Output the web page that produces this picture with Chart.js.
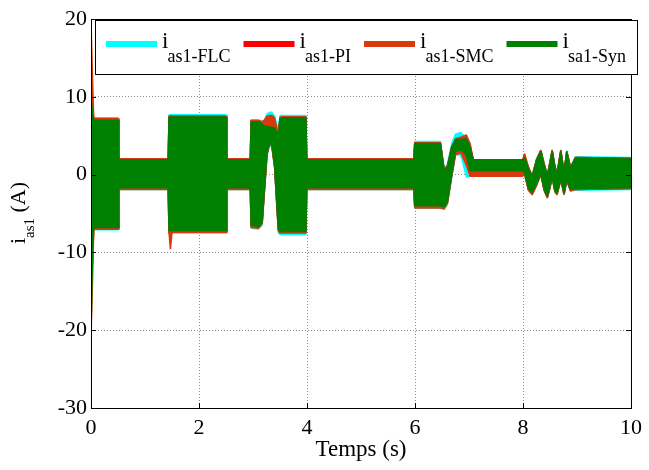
<!DOCTYPE html>
<html>
<head>
<meta charset="utf-8">
<script src="https://cdn.jsdelivr.net/npm/chart.js@4.4.1/dist/chart.umd.min.js"></script>
<style>
html, body { margin: 0; padding: 0; background: #fff; }
</style>
</head>
<body>
<canvas id="myChart" width="649" height="470"></canvas>
<script>
// time breakpoints (s) shared by all envelopes
var time = [0, 0.03, 0.05, 0.5, 0.515, 1.43, 1.445, 1.47, 1.5, 2.5, 2.515, 2.95, 2.965, 3.1, 3.17, 3.21, 3.26, 3.31, 3.35, 3.4, 3.44, 3.47, 3.5, 3.54, 3.98, 3.995, 5.98, 5.995, 6.47, 6.54, 6.6, 6.68, 6.75, 6.85, 6.95, 7.02, 7.08,
            7.99, 8.03, 8.1, 8.17, 8.25, 8.33, 8.39, 8.45, 8.5, 8.54, 8.59, 8.63, 8.7, 8.76, 8.81, 8.88, 8.97, 10];

// upper / lower envelope of each current (A)
var flcHi = [8, 7.5, 7.3, 7.3, 2.05, 2.05, 7.7, 7.7, 7.7, 7.7, 2.05, 2.05, 7.0, 7.0, 6.8, 7.0, 7.8, 8.0, 8.0, 7.5, 6.5, 6.0, 7.6, 7.6, 7.6, 2.05, 2.05, 4.25, 4.25, 0.8, 1.3, 4.0, 5.2, 5.4, 4.7, 3.6, 1.8,
             1.8, 2.1, 0.9, -0.1, 2.0, 3.2, 1.5, 0.0, 1.7, 3.2, 1.2, 0.2, 3.2, 0.4, 3.1, 1.0, 2.3, 2.2];
var flcLo = [-10, -8, -7.1, -7.1, -1.9, -1.9, -7.5, -7.5, -7.5, -7.5, -1.9, -1.9, -6.9, -7.0, -6.5, -2.5, 2.4, 3.9, 3.5, 0.8, -4.0, -7.5, -7.7, -7.7, -7.7, -1.9, -1.9, -4.3, -4.3, -4.5, -3.8, -0.3, 2.6, 2.5, -0.3, -0.2, 0.0,
             0.0, 0.1, -2.0, -2.5, -1.4, 0.0, -2.0, -3.0, -1.7, -0.4, -2.2, -2.6, -0.7, -2.6, -0.8, -2.1, -2.0, -1.9];

var piHi = [12, 9, 7.1, 7.1, 2.0, 2.0, 7.5, 7.5, 7.5, 7.5, 2.0, 2.0, 6.9, 6.9, 6.6, 6.4, 6.8, 7.0, 7.0, 6.6, 5.8, 5.2, 7.3, 7.4, 7.4, 2.0, 2.0, 4.1, 4.1, 0.6, 1.1, 3.6, 4.4, 4.6, 4.9, 3.8, 1.9,
            1.9, 2.3, 0.9, -0.2, 1.9, 3.1, 1.4, -0.1, 1.6, 3.1, 1.1, 0.1, 3.1, 0.3, 3.0, 0.9, 2.2, 2.1];
var piLo = [-14, -11, -7.0, -7.0, -1.8, -1.8, -7.4, -8.0, -7.4, -7.4, -1.8, -1.8, -6.7, -6.8, -6.2, -2.2, 2.7, 4.1, 3.7, 1.1, -3.7, -7.1, -7.4, -7.4, -7.4, -1.8, -1.8, -4.2, -4.2, -4.3, -3.6, -0.1, 2.8, 3.0, 1.5, 0.1, 0.1,
            0.1, 0.1, -1.9, -2.5, -1.3, 0.1, -1.9, -2.9, -1.6, -0.3, -2.1, -2.5, -0.6, -2.5, -0.7, -2.0, -1.9, -1.8];

var smcHi = [19.3, 12, 7.2, 7.2, 2.0, 2.0, 7.5, 7.5, 7.5, 7.5, 2.0, 2.0, 7.0, 7.0, 6.8, 7.0, 7.5, 7.6, 7.6, 7.3, 6.0, 5.0, 7.3, 7.4, 7.4, 2.0, 2.0, 4.1, 4.1, 0.5, 1.0, 3.5, 4.6, 4.8, 5.1, 4.0, 1.8,
             1.8, 2.7, 1.0, -0.2, 1.9, 3.1, 1.4, -0.1, 1.6, 3.1, 1.1, 0.1, 3.1, 0.3, 3.0, 0.9, 2.2, 2.1];
var smcLo = [-21, -13, -7.0, -7.0, -1.9, -1.9, -7.4, -9.6, -7.4, -7.4, -1.9, -1.9, -6.8, -6.9, -6.3, -2.3, 2.6, 4.0, 3.6, 1.0, -3.8, -7.2, -7.5, -7.5, -7.5, -1.9, -1.9, -4.3, -4.3, -4.4, -3.7, -0.2, 2.5, 2.8, 1.2, -0.2, -0.2,
             -0.2, 0.0, -2.0, -2.6, -1.4, 0.0, -2.0, -3.0, -1.7, -0.4, -2.2, -2.6, -0.7, -2.6, -0.8, -2.1, -1.9, -1.8];

var synHi = [9.5, 8.0, 7.0, 7.0, 1.9, 1.9, 7.4, 7.4, 7.4, 7.4, 1.9, 1.9, 6.8, 6.8, 6.5, 6.2, 6.2, 6.1, 6.1, 6.0, 5.5, 5.0, 7.2, 7.3, 7.3, 1.9, 1.9, 4.0, 4.0, 0.5, 1.0, 3.5, 4.5, 4.5, 4.6, 3.5, 1.9,
             1.9, 2.2, 0.8, -0.3, 1.8, 3.0, 1.3, -0.2, 1.5, 3.0, 1.0, 0.0, 3.0, 0.2, 2.9, 0.8, 2.1, 2.0];
var synLo = [-20, -10, -6.8, -6.8, -1.7, -1.7, -7.2, -7.2, -7.2, -7.2, -1.7, -1.7, -6.5, -6.7, -6.0, -2.0, 2.8, 4.2, 3.8, 1.2, -3.5, -7.0, -7.3, -7.3, -7.3, -1.7, -1.7, -4.0, -4.0, -4.1, -3.5, 0.0, 3.0, 3.2, 2.5, 0.5, 0.5,
             0.5, 0.3, -1.8, -2.3, -1.2, 0.2, -1.8, -2.8, -1.5, -0.2, -2.0, -2.4, -0.5, -2.4, -0.6, -1.9, -1.8, -1.7];

var xTicks = [0, 2, 4, 6, 8, 10];
var yTicks = [-30, -20, -10, 0, 10, 20];
var legendSubs = ['as1-FLC', 'as1-PI', 'as1-SMC', 'sa1-Syn'];

var serif = '"Liberation Serif", "Times New Roman", serif';

function toPoints(vals) {
    return time.map(function(t, i) { return { x: t, y: vals[i] }; });
}

// one filled band per current: upper line filled down to lower line
function band(hi, lo, color, order, name) {
    var common = {
        label: name,
        borderColor: color,
        backgroundColor: color,
        borderWidth: 1.5,
        borderJoinStyle: 'bevel',
        pointRadius: 0,
        tension: 0,
        order: order
    };
    return [
        Object.assign({}, common, { data: toPoints(hi), fill: '+1' }),
        Object.assign({}, common, { data: toPoints(lo), fill: false })
    ];
}

var colors = ['#00ffff', '#ff0000', '#d93a0c', '#008000'];

var datasets = []
    .concat(band(flcHi, flcLo, colors[0], 3, legendSubs[0]))
    .concat(band(piHi, piLo, colors[1], 2, legendSubs[1]))
    .concat(band(smcHi, smcLo, colors[2], 1, legendSubs[2]))
    .concat(band(synHi, synLo, colors[3], 0, legendSubs[3]));

// axes box, inner ticks, legend box and y label with subscript
var decorations = {
    id: 'decorations',
    afterDatasetsDraw: function(chart) {
        var ctx = chart.ctx, a = chart.chartArea;
        var xs = chart.scales.x, ys = chart.scales.y;
        ctx.save();
        ctx.strokeStyle = '#000';
        ctx.lineWidth = 1;
        ctx.strokeRect(Math.round(a.left) + 0.5, Math.round(a.top) + 0.5,
            Math.round(a.right - a.left), Math.round(a.bottom - a.top));
        ctx.beginPath();
        xTicks.forEach(function(v) {
            var px = Math.round(xs.getPixelForValue(v)) + 0.5;
            ctx.moveTo(px, a.bottom); ctx.lineTo(px, a.bottom - 5);
            ctx.moveTo(px, a.top); ctx.lineTo(px, a.top + 5);
        });
        yTicks.forEach(function(v) {
            var py = Math.round(ys.getPixelForValue(v)) + 0.5;
            ctx.moveTo(a.left, py); ctx.lineTo(a.left + 5, py);
            ctx.moveTo(a.right, py); ctx.lineTo(a.right - 5, py);
        });
        ctx.stroke();

        // legend
        var bx = 95.5, by = 20.5, bw = 542, bh = 54;
        ctx.fillStyle = '#fff';
        ctx.fillRect(bx, by, bw, bh);
        ctx.strokeRect(bx, by, bw, bh);
        var x = 106;
        legendSubs.forEach(function(sub, i) {
            ctx.strokeStyle = colors[i];
            ctx.lineWidth = 6;
            ctx.beginPath();
            ctx.moveTo(x, 44); ctx.lineTo(x + 51, 44);
            ctx.stroke();
            x += 56;
            ctx.fillStyle = '#000';
            ctx.textBaseline = 'alphabetic';
            ctx.textAlign = 'left';
            ctx.font = '23px ' + serif;
            ctx.fillText('i', x, 48);
            x += 5.5;
            ctx.font = '18px ' + serif;
            ctx.fillText(sub, x, 62);
            x += ctx.measureText(sub).width + 13;
        });

        // y axis label: i_as1 (A)
        ctx.translate(25, 213);
        ctx.rotate(-Math.PI / 2);
        ctx.fillStyle = '#000';
        ctx.textAlign = 'left';
        ctx.textBaseline = 'alphabetic';
        ctx.font = '22px ' + serif;
        var w1 = ctx.measureText('i').width;
        var w3 = ctx.measureText(' (A)').width;
        ctx.font = '15px ' + serif;
        var w2 = ctx.measureText('as1').width;
        var sx = -(w1 + w2 + w3) / 2;
        ctx.font = '22px ' + serif;
        ctx.fillText('i', sx, 0);
        ctx.font = '15px ' + serif;
        ctx.fillText('as1', sx + w1, 9);
        ctx.font = '22px ' + serif;
        ctx.fillText(' (A)', sx + w1 + w2, 0);
        ctx.restore();
    }
};

var ctx = document.getElementById('myChart').getContext('2d');
var chart = new Chart(ctx, {
    type: 'line',
    data: { datasets: datasets },
    options: {
        responsive: false,
        animation: false,
        events: [],
        layout: { padding: { left: 0, right: 11, top: 19, bottom: 0 } },
        plugins: {
            legend: { display: false },
            tooltip: { enabled: false }
        },
        scales: {
            x: {
                type: 'linear',
                min: 0,
                max: 10,
                afterBuildTicks: function(s) { s.ticks = xTicks.map(function(v) { return { value: v }; }); },
                afterFit: function(s) { s.height = 62; },
                grid: { color: '#8c8c8c', lineWidth: 1, drawTicks: false },
                border: { display: true, color: '#000', dash: [1, 2] },
                ticks: { color: '#000', padding: 7, maxRotation: 0, font: { family: serif, size: 22 } },
                title: { display: true, text: 'Temps (s)', color: '#000', padding: { top: 0, bottom: 6 }, font: { family: serif, size: 23 } }
            },
            y: {
                min: -30,
                max: 20,
                afterBuildTicks: function(s) { s.ticks = yTicks.map(function(v) { return { value: v }; }); },
                afterFit: function(s) { s.width = 91; },
                grid: { color: '#8c8c8c', lineWidth: 1, drawTicks: false },
                border: { display: true, color: '#000', dash: [1, 2] },
                ticks: { color: '#000', padding: 4, font: { family: serif, size: 22 } }
            }
        }
    },
    plugins: [decorations]
});
</script>
</body>
</html>
